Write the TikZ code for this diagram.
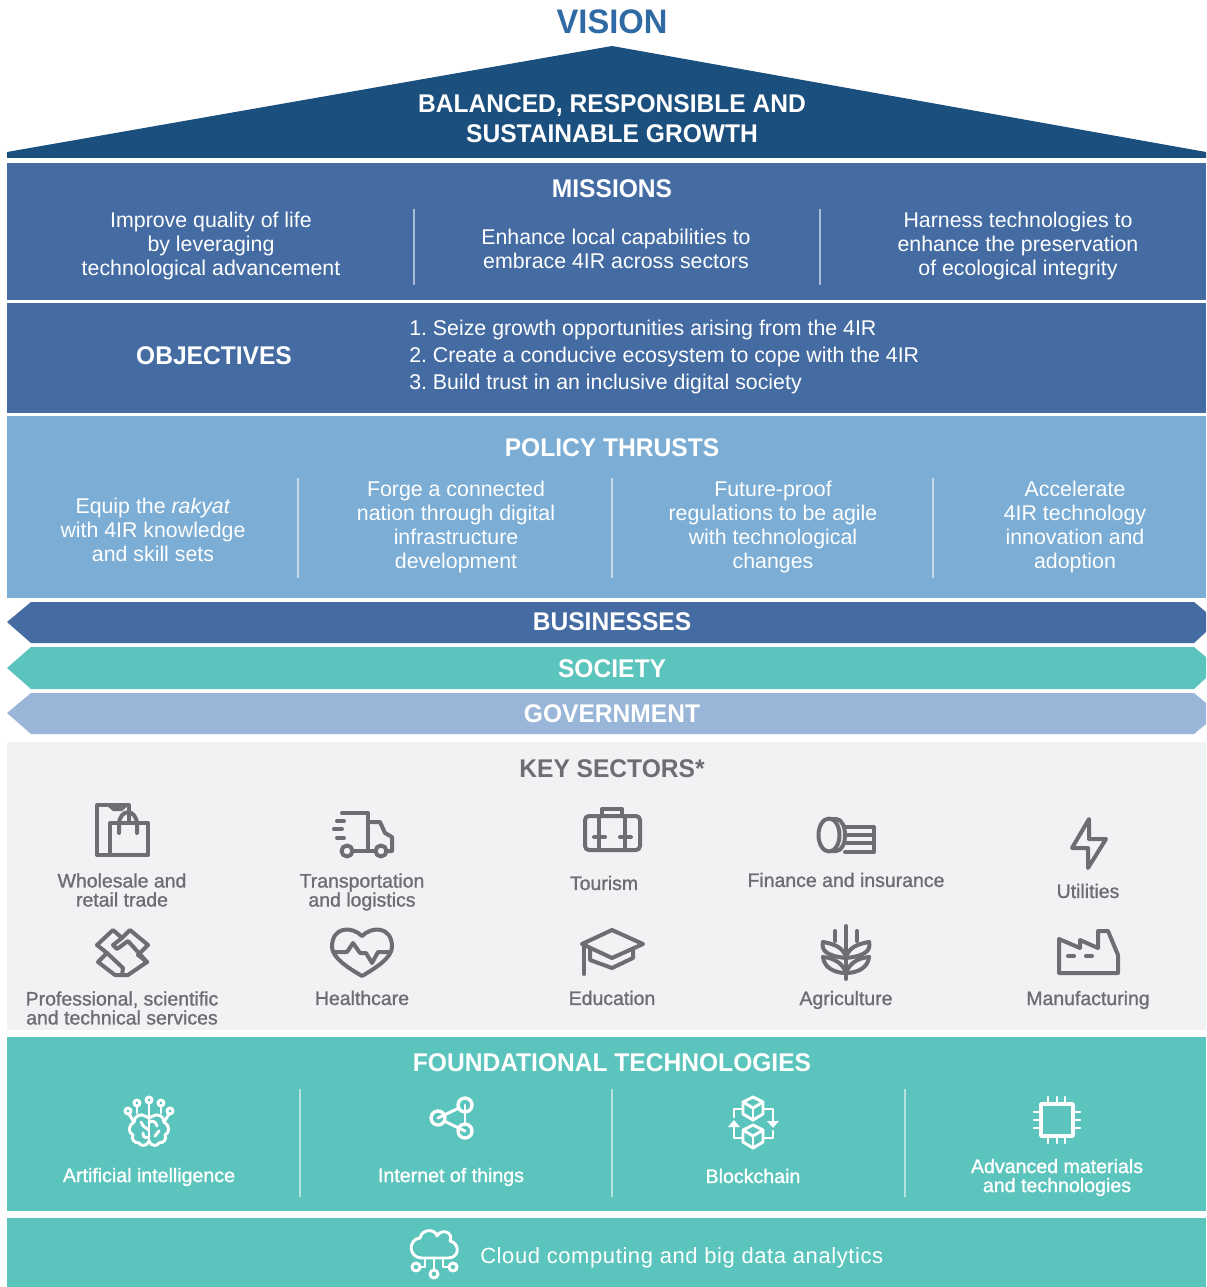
\documentclass[tikz,border=0pt]{standalone}
\usepackage{fontspec}
\setmainfont{Liberation Sans}[BoldFeatures={FakeStretch=0.96}]
\newfontfamily\medfont[FakeBold=1.2]{Liberation Sans}
\newfontfamily\cloudfont[LetterSpace=2.7]{Liberation Sans}
\usetikzlibrary{arrows.meta}
\definecolor{visionblue}{HTML}{2F6AA5}
\definecolor{roofblue}{HTML}{1B4F7E}
\definecolor{midblue}{HTML}{446CA3}
\definecolor{skyblue}{HTML}{7BADD5}
\definecolor{teal1}{HTML}{5BC4BC}
\definecolor{paleblue}{HTML}{99B5D8}
\definecolor{panelgrey}{HTML}{F1F2F4}
\definecolor{inkgrey}{HTML}{6D6E71}
\tikzset{
  heading/.style={text=white,font=\bfseries\fontsize{19.2}{22.5}\selectfont,align=center,inner sep=0pt},
  body/.style={text=white,font=\frenchspacing\fontsize{16}{18}\selectfont,align=center,inner sep=0pt},
  sectorlabel/.style={text=inkgrey,font=\medfont\fontsize{14.6}{14.25}\selectfont,align=center,inner sep=0pt},
  techlabel/.style={text=white,font=\medfont\fontsize{14.7}{14.25}\selectfont,align=center,inner sep=0pt},
  divider/.style={draw=white,opacity=.55,line width=1.3pt},
  greyicon/.style={draw=inkgrey,line width=3pt,line cap=round,line join=round},
  whiteicon/.style={draw=white,line width=2.2pt,line cap=round,line join=round}
}
\begin{document}
\begin{tikzpicture}[x=0.75pt,y=-0.75pt]
\useasboundingbox (0,0) rectangle (1206,1287);
\fill[white] (0,0) rectangle (1206,1287);
% bands
\fill[roofblue] (7,152) -- (612,46) -- (1206,152) -- (1206,158) -- (7,158) -- cycle;
\fill[midblue] (7,163) rectangle (1206,300);
\fill[midblue] (7,303) rectangle (1206,413);
\fill[skyblue] (7,416) rectangle (1206,598);
\fill[midblue] (7,622) -- (31,602) -- (1194,602) -- (1206,612) -- (1206,632) -- (1194,643) -- (31,643) -- cycle;
\fill[teal1] (7,668) -- (31,647) -- (1194,647) -- (1206,657) -- (1206,678) -- (1194,689) -- (31,689) -- cycle;
\fill[paleblue] (7,713) -- (31,693) -- (1194,693) -- (1206,703) -- (1206,724) -- (1194,734) -- (31,734) -- cycle;
\fill[panelgrey] (7,742) rectangle (1206,1030);
\fill[teal1] (7,1037) rectangle (1206,1211);
\fill[teal1] (7,1218) rectangle (1206,1287);
% dividers
\foreach \x in {414,820}{\draw[divider] (\x,209) -- (\x,285);}
\foreach \x in {298,612,933}{\draw[divider] (\x,478) -- (\x,578);}
\foreach \x in {300,612,905}{\draw[divider] (\x,1089) -- (\x,1197);}
% headings
\node[font=\bfseries\fontsize{25.5}{30}\selectfont,text=visionblue,inner sep=0pt] (vision) at (612,22) {VISION};
\node[heading] (growth) at (612,119) {BALANCED, RESPONSIBLE AND\\SUSTAINABLE GROWTH};
\node[heading] (missions) at (612,189) {MISSIONS};
\node[heading] (objectives) at (214,356) {OBJECTIVES};
\node[heading] (thrusts) at (612,448) {POLICY THRUSTS};
\node[heading] (businesses) at (612,622) {BUSINESSES};
\node[heading] (society) at (612,669) {SOCIETY};
\node[heading] (government) at (612,714) {GOVERNMENT};
\node[heading,text=inkgrey] (sectors) at (612,769) {KEY SECTORS*};
\node[heading] (foundational) at (612,1063) {FOUNDATIONAL TECHNOLOGIES};
% missions
\node[body] (m1) at (211,246) {Improve quality of life\\by leveraging\\technological advancement};
\node[body] (m2) at (616,249) {Enhance local capabilities to\\embrace 4IR across sectors};
\node[body] (m3) at (1018,246) {Harness technologies to\\enhance the preservation\\of ecological integrity};
% objectives
\node[body,align=left,anchor=west,font=\frenchspacing\fontsize{16}{20.25}\selectfont] (o1) at (409,357) {1. Seize growth opportunities arising from the 4IR\\2. Create a conducive ecosystem to cope with the 4IR\\3. Build trust in an inclusive digital society};
% thrusts
\node[body] (t1) at (153,530) {Equip the \textit{rakyat}\\with 4IR knowledge\\and skill sets};
\node[body] (t2) at (456,527) {Forge a connected\\nation through digital\\infrastructure\\development};
\node[body] (t3) at (773,527) {Future-proof\\regulations to be agile\\with technological\\changes};
\node[body] (t4) at (1075,527) {Accelerate\\4IR technology\\innovation and\\adoption};
% sector labels
\node[sectorlabel] (s1) at (122,890) {Wholesale and\\retail trade};
\node[sectorlabel] (s2) at (362,892) {Transportation\\and logistics};
\node[sectorlabel] (s3) at (604,883) {Tourism};
\node[sectorlabel] (s4) at (846,880) {Finance and insurance};
\node[sectorlabel] (s5) at (1088,891) {Utilities};
\node[sectorlabel] (s6) at (122,1008) {Professional, scientific\\and technical services};
\node[sectorlabel] (s7) at (362,998) {Healthcare};
\node[sectorlabel] (s8) at (612,998) {Education};
\node[sectorlabel] (s9) at (846,1000) {Agriculture};
\node[sectorlabel] (s10) at (1088,1000) {Manufacturing};
% tech labels
\node[techlabel] (f1) at (149,1177) {Artificial intelligence};
\node[techlabel] (f2) at (451,1177) {Internet of things};
\node[techlabel] (f3) at (753,1176) {Blockchain};
\node[techlabel] (f4) at (1057,1177.5) {Advanced materials\\and technologies};
\node[body,anchor=west,font=\cloudfont\fontsize{16.5}{18}\selectfont] (cloudlabel) at (480,1258) {Cloud computing and big data analytics};
% --- grey icons ---
% wholesale
\draw[greyicon] (109,855) -- (97,855) -- (97,805) -- (129,805) -- (129,822);
\fill[inkgrey] (106,805) -- (129,805) -- (122,811) -- (113,811) -- cycle;
\draw[greyicon] (110,823) rectangle (148,855);
\draw[greyicon] (119,833) -- (119,825) .. controls (119,808) and (137,808) .. (137,825) -- (137,833);
% truck
\draw[greyicon] (342,813) -- (368,813) -- (368,851);
\draw[greyicon] (353,851) -- (375,851);
\draw[greyicon] (368,822) -- (380,822) -- (385,833) -- (392,837) -- (392,851) -- (387,851);
\draw[greyicon] (347,851) circle[radius=5.5];
\draw[greyicon] (381,851) circle[radius=5.5];
\draw[greyicon] (337,821) -- (344,821);
\draw[greyicon] (334,829) -- (342,829);
\draw[greyicon] (337,838) -- (344,838);
% tourism
\draw[greyicon,rounded corners=3pt] (585,816) rectangle (640,850);
\draw[greyicon] (602,816) -- (602,809) -- (622,809) -- (622,816);
\draw[greyicon] (599,816) -- (599,850);
\draw[greyicon] (625,816) -- (625,850);
\draw[greyicon] (594,837) -- (605,837);
\draw[greyicon] (620,837) -- (631,837);
% finance
\draw[greyicon] (829,835) ellipse[x radius=10.5,y radius=16.5];
\draw[greyicon] (831,819) -- (836,819) .. controls (848,819) and (848,851) .. (836,851) -- (831,851);
\draw[greyicon] (845,827) -- (874,827) -- (874,852) -- (845,852);
\draw[greyicon] (846,835) -- (874,835);
\draw[greyicon] (846,843) -- (874,843);
% utilities
\draw[greyicon] (1089,819) -- (1072,848) -- (1088,848) -- (1088,868) -- (1106,839) -- (1089,839) -- cycle;
% handshake
\draw[greyicon] (97,945) -- (113,930) -- (122,938) -- (130,930) -- (148,945) -- (138,955) -- (147,962) -- (128,975) -- (115,975) -- (98,962) -- (107,953) -- cycle;
\draw[greyicon] (122,938) -- (113,945) -- (117,949) -- (128,941) -- (147,962);
\draw[greyicon] (107,953) -- (123,968) -- (122,975);
% heart
\draw[greyicon] (362,936) .. controls (352,926) and (332,926) .. (332,947) .. controls (332,958) and (350,969) .. (362,976) .. controls (374,969) and (392,958) .. (392,947) .. controls (392,926) and (372,926) .. (362,936) -- cycle;
\draw[greyicon] (335,952) -- (347,952) -- (353,943) -- (360,953) -- (366,953) -- (372,963) -- (378,952) -- (390,952);
% education
\draw[greyicon] (612,930) -- (643,944) -- (612,958) -- (582,944) -- cycle;
\draw[greyicon] (590,949) -- (590,960) -- (612,968) -- (633,958) -- (633,950);
\draw[greyicon] (584,945) -- (584,974);
% agriculture
\draw[greyicon] (846,926) -- (846,979);
\draw[greyicon] (835,931) -- (835,941);
\draw[greyicon] (857,931) -- (857,941);
\draw[greyicon] (823,942) .. controls (835,944) and (844,948) .. (846,958);
\draw[greyicon] (869,942) .. controls (857,944) and (848,948) .. (846,958);
\draw[greyicon] (823,942) .. controls (821,950) and (826,956) .. (846,958);
\draw[greyicon] (869,942) .. controls (871,950) and (866,956) .. (846,958);
\draw[greyicon] (823,957) .. controls (835,958) and (843,964) .. (846,973);
\draw[greyicon] (869,957) .. controls (857,958) and (849,964) .. (846,973);
\draw[greyicon] (823,957) .. controls (824,968) and (835,973) .. (846,973);
\draw[greyicon] (869,957) .. controls (868,968) and (857,973) .. (846,973);
% manufacturing
\draw[greyicon] (1059,973) -- (1059,939) -- (1080,948) -- (1080,940) -- (1098,948) -- (1098,931) -- (1108,931) -- (1118,955) -- (1118,973) -- cycle;
\draw[greyicon] (1068,956) -- (1074,956);
\draw[greyicon] (1086,956) -- (1092,956);
% --- white icons ---
% brain
\foreach \cx/\cy in {149/1100,137/1103,161/1103,128/1111,170/1111}{\draw[whiteicon] (\cx,\cy) circle[radius=3];}
\draw[whiteicon] (149,1103) -- (149,1141);
\draw[whiteicon] (137,1106) -- (137,1113);
\draw[whiteicon] (161,1106) -- (161,1113);
\draw[whiteicon] (129,1114) -- (134,1122);
\draw[whiteicon] (169,1114) -- (164,1122);
\draw[whiteicon] (149,1141) .. controls (147,1147) and (140,1146) .. (139,1143) .. controls (134,1143) and (131,1139) .. (133,1135) .. controls (128,1133) and (128,1125) .. (134,1122) .. controls (134,1116) and (141,1113) .. (145,1116) -- (149,1118);
\draw[whiteicon] (149,1141) .. controls (151,1147) and (158,1146) .. (159,1143) .. controls (164,1143) and (167,1139) .. (165,1135) .. controls (170,1133) and (170,1125) .. (164,1122) .. controls (164,1116) and (157,1113) .. (153,1116) -- (149,1118);
\draw[whiteicon] (149,1130) .. controls (145,1127) and (143,1127) .. (141,1122);
\draw[whiteicon] (149,1122) .. controls (153,1120) and (156,1122) .. (157,1126);
\draw[whiteicon] (149,1137) .. controls (144,1139) and (143,1136) .. (143,1133);
\draw[whiteicon] (159,1131) -- (155,1136);
% iot
\draw[whiteicon,line width=2.5pt] (465,1105) circle[radius=7];
\draw[whiteicon,line width=2.5pt] (438,1118) circle[radius=7];
\draw[whiteicon,line width=2.5pt] (465,1131) circle[radius=7];
\draw[whiteicon] (465,1105) -- (465,1124);
\draw[whiteicon] (438,1118) -- (459,1108);
\draw[whiteicon] (444,1121) -- (465,1131);
% blockchain
\foreach \cy in {1108,1136}{
\draw[whiteicon] (753,\cy-11) -- (763,\cy-6) -- (763,\cy+6) -- (753,\cy+12) -- (743,\cy+6) -- (743,\cy-6) -- cycle;
\draw[whiteicon] (743,\cy-6) -- (753,\cy) -- (763,\cy-6);
\draw[whiteicon] (753,\cy) -- (753,\cy+12);
}
\draw[whiteicon] (764,1109) -- (773,1109) -- (773,1122);
\fill[white] (767,1121) -- (779,1121) -- (773,1128) -- cycle;
\draw[whiteicon] (743,1109) -- (734,1109) -- (734,1117);
\draw[whiteicon] (734,1127) -- (734,1138) -- (743,1138);
\fill[white] (728,1127) -- (740,1127) -- (734,1120) -- cycle;
\draw[whiteicon] (764,1138) -- (773,1138) -- (773,1131);
% chip
\draw[whiteicon,line width=2.8pt] (1041,1104) rectangle (1073,1136);
\foreach \k in {1048,1057,1065}{\draw[whiteicon] (\k,1097) -- (\k,1104); \draw[whiteicon] (\k,1136) -- (\k,1143);}
\foreach \k in {1112,1120,1128}{\draw[whiteicon] (1034,\k) -- (1041,\k); \draw[whiteicon] (1073,\k) -- (1080,\k);}
% cloud
\draw[whiteicon] (422,1258) .. controls (408,1258) and (408,1239) .. (420,1238) .. controls (422,1228) and (436,1229) .. (437,1236) .. controls (441,1228) and (454,1232) .. (450,1241) .. controls (460,1243) and (460,1258) .. (448,1258) -- cycle;
\draw[whiteicon] (416,1267) circle[radius=4];
\draw[whiteicon] (434,1274) circle[radius=4];
\draw[whiteicon] (453,1267) circle[radius=4];
\draw[whiteicon] (434,1258) -- (434,1270);
\draw[whiteicon] (425,1258) -- (425,1267) -- (420,1267);
\draw[whiteicon] (443,1258) -- (443,1267) -- (449,1267);
\end{tikzpicture}
\end{document}
